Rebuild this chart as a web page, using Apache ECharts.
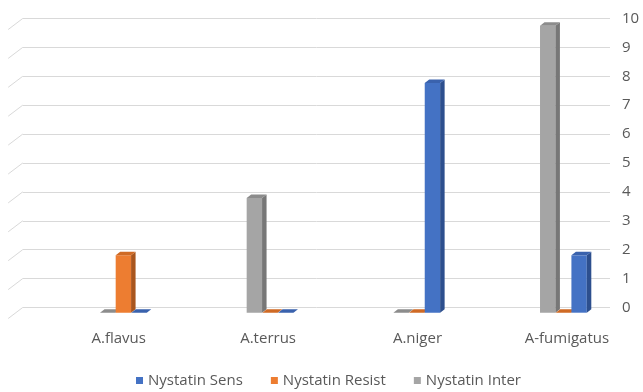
<!DOCTYPE html>
<html>
<head>
<meta charset="utf-8">
<script src="https://cdn.jsdelivr.net/npm/echarts@6/dist/echarts.min.js"></script>
<style>
  html, body { margin: 0; padding: 0; background: #ffffff; }
  #chart { width: 643px; height: 392px; }
</style>
</head>
<body>
<div id="chart"></div>
<script>
// Isolates per category and susceptibility result
const categories = ['A.flavus', 'A.terrus', 'A.niger', 'A-fumigatus'];
const seriesNames = ['Nystatin Sens', 'Nystatin Resist', 'Nystatin Inter'];
const sensValues = [0, 0, 8, 2];
const resistValues = [2, 0, 0, 0];
const interValues = [0, 4, 0, 10];
const yTicks = [0, 1, 2, 3, 4, 5, 6, 7, 8, 9, 10];

const FONT = "'Open Sans', sans-serif";
const TEXT = '#595959';
const GRID_LINE = '#d9d9d9';

// front / side / top shades for each 3D column
const shades = {
  sens:   { front: '#4472c4', side: '#2d4f8e', top: '#3a62ad' },
  resist: { front: '#ed7d31', side: '#a9561e', top: '#cf6a25' },
  inter:  { front: '#a5a5a5', side: '#777777', top: '#8c8c8c' }
};

// Draws one 3D column (front face, right side, top) in its slot of the cluster
function columnRenderer(slot, c) {
  return function (params, api) {
    const cat = api.value(0);
    const val = api.value(1);
    const base = api.coord([cat, 0]);
    const top = api.coord([cat, val]);
    const band = api.size([1, 0])[0];
    const slotW = band * 0.107;
    const faceW = slotW - 0.3;
    const x0 = base[0] - slotW * 1.5 + slot * slotW;
    const y0 = base[1];
    const y1 = top[1];
    const dx = 4.5, dy = 3.5;
    return {
      type: 'group',
      children: [
        {
          type: 'rect',
          shape: { x: x0, y: y1, width: faceW, height: y0 - y1 },
          style: { fill: c.front }
        },
        {
          type: 'polygon',
          shape: { points: [[x0 + faceW, y1], [x0 + faceW + dx, y1 - dy], [x0 + faceW + dx, y0 - dy], [x0 + faceW, y0]] },
          style: { fill: c.side }
        },
        {
          type: 'polygon',
          shape: { points: [[x0, y1], [x0 + dx, y1 - dy], [x0 + faceW + dx, y1 - dy], [x0 + faceW, y1]] },
          style: { fill: c.top }
        }
      ]
    };
  };
}

// Slanted side-wall strokes at the left end of each gridline
function wallRenderer(params, api) {
  const y = api.coord([0, api.value(0)])[1];
  const x = params.coordSys.x;
  return {
    type: 'line',
    shape: { x1: x, y1: y, x2: x - 14.5, y2: y + 11 },
    style: { stroke: GRID_LINE, lineWidth: 1 }
  };
}

const chart = echarts.init(document.getElementById('chart'), null, { renderer: 'canvas' });

chart.setOption({
  animation: false,
  backgroundColor: '#ffffff',
  textStyle: { fontFamily: FONT },
  legend: {
    data: seriesNames.map(n => ({ name: n, icon: 'rect' })),
    left: 136,
    top: 373,
    padding: 0,
    itemWidth: 7,
    itemHeight: 7,
    itemGap: 28,
    textStyle: { color: TEXT, fontSize: 15, fontFamily: FONT }
  },
  grid: [
    // back wall (gridlines + value labels)
    { left: 22.7, right: 33, top: 18.5, bottom: 84.5 },
    // floor front (columns)
    { left: 50.2, right: 6.1, top: 25.7, bottom: 79.3 },
    // category label strip, projected slightly wider than the floor
    { left: 44, right: 1.4, top: 25.7, bottom: 79.3 }
  ],
  xAxis: [
    { gridIndex: 0, type: 'category', data: categories, show: false },
    { gridIndex: 1, type: 'category', data: categories, show: false },
    {
      gridIndex: 2,
      type: 'category',
      data: categories,
      axisLine: { show: false },
      axisTick: { show: false },
      axisLabel: { color: TEXT, fontSize: 15, fontFamily: FONT, margin: 19 }
    }
  ],
  yAxis: [
    {
      gridIndex: 0,
      type: 'value',
      position: 'right',
      min: 0,
      max: 10,
      interval: 1,
      axisLine: { show: false },
      axisTick: { show: false },
      axisLabel: { color: TEXT, fontSize: 15, fontFamily: FONT, margin: 12 },
      splitLine: { lineStyle: { color: GRID_LINE, width: 1 } }
    },
    { gridIndex: 1, type: 'value', min: 0, max: 10, show: false, splitLine: { show: false } },
    { gridIndex: 2, type: 'value', min: 0, max: 10, show: false, splitLine: { show: false } }
  ],
  series: [
    {
      type: 'custom',
      name: 'wall',
      xAxisIndex: 0,
      yAxisIndex: 0,
      data: yTicks.map(v => [v]),
      renderItem: wallRenderer,
      silent: true,
      z: 1
    },
    {
      type: 'custom',
      name: seriesNames[0],
      xAxisIndex: 1,
      yAxisIndex: 1,
      itemStyle: { color: shades.sens.front },
      data: categories.map((c, i) => [i, sensValues[i]]),
      renderItem: columnRenderer(2, shades.sens),
      z: 4
    },
    {
      type: 'custom',
      name: seriesNames[1],
      xAxisIndex: 1,
      yAxisIndex: 1,
      itemStyle: { color: shades.resist.front },
      data: categories.map((c, i) => [i, resistValues[i]]),
      renderItem: columnRenderer(1, shades.resist),
      z: 3
    },
    {
      type: 'custom',
      name: seriesNames[2],
      xAxisIndex: 1,
      yAxisIndex: 1,
      itemStyle: { color: shades.inter.front },
      data: categories.map((c, i) => [i, interValues[i]]),
      renderItem: columnRenderer(0, shades.inter),
      z: 2
    }
  ]
});
</script>
</body>
</html>
